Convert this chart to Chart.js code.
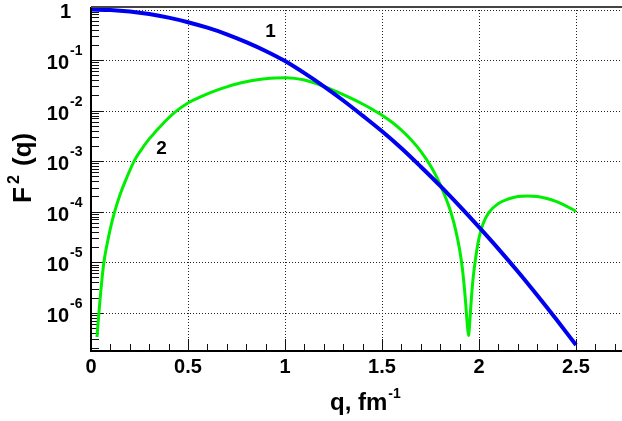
<!DOCTYPE html>
<html><head><meta charset="utf-8">
<script src="https://cdn.jsdelivr.net/npm/chart.js@4"></script>
<style>html,body{margin:0;padding:0;background:#fff;overflow:hidden}#wrap{width:622px;height:421px;position:relative}</style>
</head><body><div id="wrap"><canvas id="c" width="622" height="421"></canvas></div>
<script>
// ---- data ----
const qBlue = [0,0.1,0.2,0.3,0.4,0.5,0.6,0.7,0.8,0.9,1.0,1.1,1.2,1.3,1.4,1.5,1.6,1.7,1.8,1.9,2.0,2.1,2.2,2.3,2.4,2.5];
const f1 = [1.0,0.977,0.912,0.813,0.692,0.562,0.437,0.324,0.2265,0.1514,0.0955,0.0550,0.0302,0.01585,7.94e-3,3.89e-3,1.80e-3,7.76e-4,3.24e-4,1.29e-4,4.95e-5,1.84e-5,6.53e-6,2.21e-6,7.24e-7,2.29e-7];
const qGreen = [0.031,0.035,0.041,0.05,0.058,0.0665,0.08,0.1,0.122,0.15,0.185,0.225,0.25,0.3,0.33,0.38,0.433,0.5,0.55,0.6,0.65,0.7,0.75,0.8,0.85,0.9,0.95,1.0,1.05,1.1,1.15,1.2,1.25,1.3,1.35,1.4,1.45,1.5,1.55,1.6,1.65,1.7,1.75,1.78,1.8,1.82,1.84,1.86,1.88,1.9,1.915,1.93,1.94,1.946,1.952,1.96,1.97,1.985,2.0,2.02,2.05,2.1,2.15,2.2,2.25,2.3,2.35,2.4,2.45,2.5];
const f2 = [3.31e-7,5.37e-7,1.0e-6,2.57e-6,5.25e-6,1.0e-5,2.0e-5,4.68e-5,1.0e-4,2.19e-4,4.79e-4,1.047e-3,1.496e-3,2.754e-3,3.715e-3,6.03e-3,9.33e-3,0.01413,0.01758,0.02138,0.02541,0.02951,0.0335,0.03715,0.04027,0.04266,0.04416,0.04467,0.04345,0.04027,0.03548,0.03006,0.02512,0.02075,0.01687,0.01349,0.01059,8.13e-3,5.96e-3,4.12e-3,2.66e-3,1.567e-3,8.13e-4,5.01e-4,3.43e-4,2.26e-4,1.43e-4,8.41e-5,4.27e-5,1.78e-5,7.08e-6,1.78e-6,5.62e-7,3.55e-7,6.31e-7,1.78e-6,5.01e-6,1.41e-5,3.02e-5,5.62e-5,9.55e-5,1.45e-4,1.78e-4,2.0e-4,2.04e-4,2.0e-4,1.82e-4,1.58e-4,1.29e-4,1.02e-4];
const xTicks = [0,0.5,1,1.5,2,2.5];
const xTickLabels = ['0','0.5','1','1.5','2','2.5'];
const yExponents = [0,-1,-2,-3,-4,-5,-6];
const curveLabels = [{text:'1', q:0.925, v:0.36},{text:'2', q:0.363, v:1.72e-3}];
const xTitle = 'q, fm';
const xTitleSup = '-1';
const yTitle = 'F';
const yTitleSup = '2';
const yTitleRest = ' (q)';
const X_MIN = 0, X_MAX = 2.737, Y_MIN = 1.83e-7, Y_MAX = 1.123;

const FONT = '"Liberation Sans", Arial, Helvetica, sans-serif';

const decor = {
  id: 'decor',
  beforeDatasetsDraw(chart) {
    const {ctx, chartArea: a, scales: {x, y}} = chart;
    ctx.save();
    ctx.strokeStyle = '#222';
    ctx.lineWidth = 1;
    ctx.setLineDash([1, 2]);
    xTicks.forEach(t => {
      if (t === 0) return;
      const px = Math.round(x.getPixelForValue(t)) + 0.5;
      ctx.beginPath(); ctx.moveTo(px, a.top); ctx.lineTo(px, a.bottom); ctx.stroke();
    });
    yExponents.forEach(e => {
      const py = Math.round(y.getPixelForValue(Math.pow(10, e))) + 0.5;
      ctx.beginPath(); ctx.moveTo(a.left, py); ctx.lineTo(a.right, py); ctx.stroke();
    });
    ctx.setLineDash([]);
    ctx.strokeStyle = '#111';
    for (let d = -8; d <= 0; d++) {
      for (let m = 1; m <= 9; m++) {
        const v = m * Math.pow(10, d);
        if (v < Y_MIN || v > Y_MAX) continue;
        const py = Math.round(y.getPixelForValue(v)) + 0.5;
        const len = m === 1 ? 12 : 8;
        ctx.beginPath(); ctx.moveTo(a.left, py); ctx.lineTo(a.left + len, py); ctx.stroke();
      }
    }
    for (let i = 0; i <= 27; i++) {
      const v = i / 10;
      if (v > X_MAX) continue;
      const px = Math.round(x.getPixelForValue(v)) + 0.5;
      const len = i % 5 === 0 ? 11 : 6;
      ctx.beginPath(); ctx.moveTo(px, a.bottom); ctx.lineTo(px, a.bottom - len); ctx.stroke();
    }
    ctx.restore();
  },
  afterDatasetsDraw(chart) {
    const {ctx, chartArea: a, scales: {x, y}} = chart;
    ctx.save();
    ctx.strokeStyle = '#000';
    ctx.lineWidth = 2;
    ctx.beginPath(); ctx.moveTo(a.left, a.top); ctx.lineTo(a.left, a.bottom + 1); ctx.lineTo(a.right, a.bottom + 1); ctx.stroke();
    ctx.strokeStyle = '#444';
    ctx.beginPath(); ctx.moveTo(a.left, a.top); ctx.lineTo(a.right, a.top); ctx.stroke();
    ctx.fillStyle = '#000';
    ctx.font = 'bold 20px ' + FONT;
    ctx.textAlign = 'center';
    ctx.textBaseline = 'alphabetic';
    xTicks.forEach((t, i) => {
      ctx.fillText(xTickLabels[i], x.getPixelForValue(t), a.bottom + 23);
    });
    yExponents.forEach(e => {
      const py = y.getPixelForValue(Math.pow(10, e));
      if (e === 0) {
        ctx.font = 'bold 20px ' + FONT;
        ctx.textAlign = 'right';
        ctx.fillText('1', 71, py + 8);
      } else {
        ctx.font = 'bold 20px ' + FONT;
        ctx.textAlign = 'right';
        ctx.fillText('10', 69, py + 9);
        ctx.font = 'bold 14px ' + FONT;
        ctx.textAlign = 'left';
        ctx.fillText(String(e), 70, py - 5);
      }
    });
    ctx.font = 'bold 19px ' + FONT;
    ctx.textAlign = 'center';
    ctx.textBaseline = 'middle';
    curveLabels.forEach(l => {
      ctx.fillText(l.text, x.getPixelForValue(l.q), y.getPixelForValue(l.v));
    });
    ctx.textBaseline = 'alphabetic';
    ctx.textAlign = 'left';
    ctx.font = 'bold 24px ' + FONT;
    ctx.fillText(xTitle, 330, 410);
    const w = ctx.measureText(xTitle).width;
    ctx.font = 'bold 14px ' + FONT;
    ctx.fillText(xTitleSup, 330 + w + 1, 398);
    ctx.save();
    ctx.translate(31, 203);
    ctx.rotate(-Math.PI / 2);
    ctx.font = 'bold 26px ' + FONT;
    ctx.fillText(yTitle, 0, 0);
    const wf = ctx.measureText(yTitle).width;
    ctx.font = 'bold 16px ' + FONT;
    ctx.fillText(yTitleSup, wf + 3, -12);
    const ws = ctx.measureText(yTitleSup).width;
    ctx.font = 'bold 26px ' + FONT;
    ctx.fillText(yTitleRest, wf + 3 + ws + 2, 0);
    ctx.restore();
    ctx.restore();
  }
};

new Chart(document.getElementById('c'), {
  type: 'line',
  data: {
    datasets: [
      { label: '1', data: qBlue.map((q, i) => ({x: q, y: f1[i]})), borderColor: '#0000f0', borderWidth: 4, pointRadius: 0, cubicInterpolationMode: 'monotone', fill: false },
      { label: '2', data: qGreen.map((q, i) => ({x: q, y: f2[i]})), borderColor: '#00ee00', borderWidth: 3, pointRadius: 0, cubicInterpolationMode: 'monotone', fill: false }
    ]
  },
  options: {
    responsive: false,
    animation: false,
    devicePixelRatio: 1,
    layout: { padding: { left: 91, top: 7, right: 0, bottom: 71 } },
    plugins: { legend: { display: false }, tooltip: { enabled: false } },
    scales: {
      x: { type: 'linear', min: X_MIN, max: X_MAX, grid: { display: false, drawTicks: false }, border: { display: false }, ticks: { display: false } },
      y: { type: 'logarithmic', min: Y_MIN, max: Y_MAX, grid: { display: false, drawTicks: false }, border: { display: false }, ticks: { display: false } }
    }
  },
  plugins: [decor]
});
</script>
</body></html>
